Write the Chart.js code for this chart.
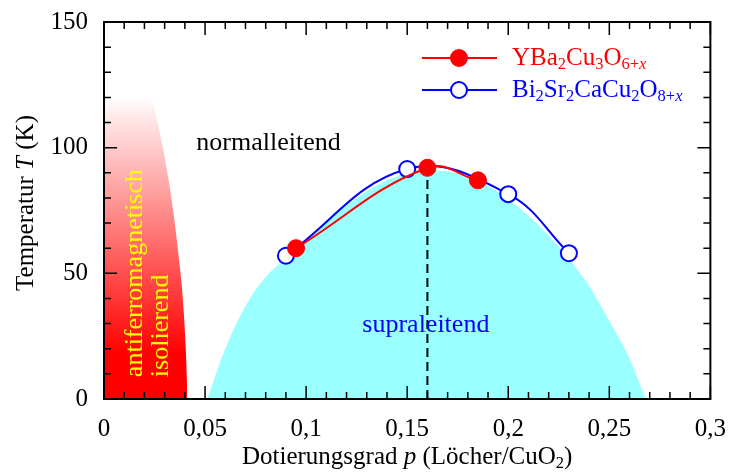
<!DOCTYPE html>
<html>
<head>
<meta charset="utf-8">
<script src="https://cdn.jsdelivr.net/npm/chart.js@4/dist/chart.umd.min.js"></script>
<style>
html, body { margin: 0; padding: 0; background: #fff; }
</style>
</head>
<body>
<canvas id="phase" width="741" height="474"></canvas>
<script>
// measured Tc values (K) vs hole doping p
const ybcoP = [0.095, 0.16, 0.185];
const ybcoT = [60, 92, 87];
const bsccoP = [0.09, 0.15, 0.2, 0.23];
const bsccoT = [57, 91.5, 81.5, 58];

// outline of the superconducting dome
const domeP = [0.051, 0.06, 0.07, 0.08, 0.09, 0.1, 0.12, 0.14, 0.16, 0.18, 0.2, 0.22, 0.24, 0.25, 0.26, 0.268];
const domeT = [0, 20, 37, 48.5, 56, 63, 77, 87, 91, 88.5, 79.5, 65, 45, 31, 16, 0];

// outline of the antiferromagnetic region
const afP = [0, 0.023, 0.0254, 0.032, 0.0365, 0.0395, 0.041, 0.0412];
const afT = [121, 121, 114, 87, 60, 34, 7.5, 0];

// optimal doping marker
const optP = [0.16, 0.16];
const optT = [0, 92];

const xTickValues = [0, 0.05, 0.1, 0.15, 0.2, 0.25, 0.3];
const xTickLabels = ['0', '0,05', '0,1', '0,15', '0,2', '0,25', '0,3'];
const yTickValues = [0, 50, 100, 150];
const yTickLabels = ['0', '50', '100', '150'];

const SERIF = '"Liberation Serif", "Times New Roman", serif';
const RED = '#ff0000';
const BLUE = '#0000ff';

function toPoints(xs, ys) {
    return xs.map((x, i) => ({ x: x, y: ys[i] }));
}

function fontFor(size, italic) {
    return (italic ? 'italic ' : '') + size + 'px ' + SERIF;
}

// parts: [text, flags]  flags: 'i' italic, 's' subscript
function richWidth(ctx, parts, size) {
    let w = 0;
    parts.forEach(([t, f = '']) => {
        ctx.font = fontFor(f.includes('s') ? size * 0.66 : size, f.includes('i'));
        w += ctx.measureText(t).width;
    });
    return w;
}

function drawRich(ctx, parts, x, y, size, color, align) {
    ctx.save();
    ctx.fillStyle = color;
    ctx.textBaseline = 'alphabetic';
    ctx.textAlign = 'left';
    let cx = x;
    if (align === 'center') cx -= richWidth(ctx, parts, size) / 2;
    parts.forEach(([t, f = '']) => {
        const sub = f.includes('s');
        ctx.font = fontFor(sub ? size * 0.66 : size, f.includes('i'));
        ctx.fillText(t, cx, sub ? y + size * 0.16 : y);
        cx += ctx.measureText(t).width;
    });
    ctx.restore();
}

const decor = {
    id: 'decor',
    afterDraw(chart) {
        const ctx = chart.ctx;
        const a = chart.chartArea;
        const sx = chart.scales.x;
        const sy = chart.scales.y;

        // inward ticks on all four sides
        ctx.save();
        ctx.strokeStyle = '#000';
        ctx.lineWidth = 1.5;
        ctx.beginPath();
        for (let k = 0; k <= 30; k++) {
            const px = sx.getPixelForValue(k / 100);
            const len = k % 5 === 0 ? 13 : 7;
            ctx.moveTo(px, a.bottom); ctx.lineTo(px, a.bottom - len);
            ctx.moveTo(px, a.top); ctx.lineTo(px, a.top + len);
        }
        for (let k = 0; k <= 15; k++) {
            const py = sy.getPixelForValue(k * 10);
            const len = k % 5 === 0 ? 13 : 7;
            ctx.moveTo(a.left, py); ctx.lineTo(a.left + len, py);
            ctx.moveTo(a.right, py); ctx.lineTo(a.right - len, py);
        }
        ctx.stroke();
        ctx.lineWidth = 2;
        ctx.strokeRect(a.left, a.top, a.right - a.left, a.bottom - a.top);
        ctx.restore();

        // region labels
        ctx.save();
        ctx.font = fontFor(26, false);
        ctx.textBaseline = 'alphabetic';
        ctx.textAlign = 'left';
        ctx.fillStyle = '#000';
        ctx.fillText('normalleitend', sx.getPixelForValue(0.0457), sy.getPixelForValue(99));
        ctx.fillStyle = BLUE;
        ctx.fillText('supraleitend', sx.getPixelForValue(0.1278), sy.getPixelForValue(26.6));
        ctx.fillStyle = '#ffff00';
        ctx.translate(sx.getPixelForValue(0.019), sy.getPixelForValue(8.7));
        ctx.rotate(-Math.PI / 2);
        ctx.fillText('antiferromagnetisch', 0, 0);
        ctx.fillText('isolierend', 0, sx.getPixelForValue(0.0319) - sx.getPixelForValue(0.019));
        ctx.restore();

        // axis titles
        drawRich(ctx, [['Dotierungsgrad '], ['p', 'i'], [' (Löcher/CuO'], ['2', 's'], [')']],
            (a.left + a.right) / 2, 464, 25, '#000', 'center');
        ctx.save();
        ctx.translate(33, 203);
        ctx.rotate(-Math.PI / 2);
        drawRich(ctx, [['Temperatur '], ['T', 'i'], [' (K)']], 0, 0, 25, '#000', 'center');
        ctx.restore();

        // legend
        const entries = [
            { parts: [['YBa'], ['2', 's'], ['Cu'], ['3', 's'], ['O'], ['6+', 's'], ['x', 'si']], color: RED, fill: RED, y: 58 },
            { parts: [['Bi'], ['2', 's'], ['Sr'], ['2', 's'], ['CaCu'], ['2', 's'], ['O'], ['8+', 's'], ['x', 'si']], color: BLUE, fill: '#fff', y: 90 }
        ];
        entries.forEach(e => {
            ctx.save();
            ctx.strokeStyle = e.color;
            ctx.lineWidth = 2;
            ctx.beginPath();
            ctx.moveTo(422, e.y); ctx.lineTo(497, e.y);
            ctx.stroke();
            ctx.beginPath();
            ctx.arc(459, e.y, 8, 0, Math.PI * 2);
            ctx.fillStyle = e.fill;
            ctx.fill();
            ctx.stroke();
            ctx.restore();
            drawRich(ctx, e.parts, 512, e.y + 7, 25, e.color, 'left');
        });
    }
};

const ctx = document.getElementById('phase').getContext('2d');

new Chart(ctx, {
    type: 'line',
    data: {
        datasets: [
            {
                label: 'YBa2Cu3O6+x',
                data: toPoints(ybcoP, ybcoT),
                borderColor: RED,
                backgroundColor: RED,
                borderWidth: 2,
                pointRadius: 8.5,
                pointBackgroundColor: RED,
                pointBorderColor: RED,
                pointBorderWidth: 1,
                tension: 0.4,
                fill: false,
                order: 0
            },
            {
                label: 'Bi2Sr2CaCu2O8+x',
                data: toPoints(bsccoP, bsccoT),
                borderColor: BLUE,
                backgroundColor: '#fff',
                borderWidth: 2,
                pointRadius: 8,
                pointBackgroundColor: '#fff',
                pointBorderColor: BLUE,
                pointBorderWidth: 2,
                tension: 0.4,
                fill: false,
                order: 1
            },
            {
                label: 'optimal doping',
                data: toPoints(optP, optT),
                borderColor: '#000',
                borderWidth: 2,
                borderDash: [9, 5],
                pointRadius: 0,
                fill: false,
                order: 2
            },
            {
                label: 'supraleitend',
                data: toPoints(domeP, domeT),
                borderColor: 'rgba(0,0,0,0)',
                borderWidth: 0,
                backgroundColor: '#99ffff',
                pointRadius: 0,
                cubicInterpolationMode: 'monotone',
                fill: 'origin',
                order: 3
            },
            {
                label: 'antiferromagnetisch',
                data: toPoints(afP, afT),
                borderColor: 'rgba(0,0,0,0)',
                borderWidth: 0,
                backgroundColor: function (context) {
                    const chart = context.chart;
                    if (!chart.chartArea) return RED;
                    const y = chart.scales.y;
                    const g = chart.ctx.createLinearGradient(0, y.getPixelForValue(0), 0, y.getPixelForValue(Math.max(...afT)));
                    g.addColorStop(0, RED);
                    g.addColorStop(0.15, RED);
                    g.addColorStop(1, '#ffffff');
                    return g;
                },
                pointRadius: 0,
                cubicInterpolationMode: 'monotone',
                fill: 'origin',
                order: 4
            }
        ]
    },
    options: {
        responsive: false,
        animation: false,
        layout: { padding: { top: 22, right: 30, left: 0, bottom: 0 } },
        plugins: {
            legend: { display: false },
            tooltip: { enabled: false }
        },
        scales: {
            x: {
                type: 'linear',
                min: 0,
                max: 0.3,
                grid: { display: false, drawTicks: false },
                border: { display: false },
                afterBuildTicks: s => { s.ticks = xTickValues.map(v => ({ value: v })); },
                afterFit: s => { s.height = 75; },
                ticks: {
                    font: { family: SERIF, size: 25 },
                    color: '#000',
                    padding: 15,
                    maxRotation: 0,
                    autoSkip: false,
                    callback: (v, i) => xTickLabels[i]
                }
            },
            y: {
                type: 'linear',
                min: 0,
                max: 150,
                grid: { display: false, drawTicks: false },
                border: { display: false },
                afterBuildTicks: s => { s.ticks = yTickValues.map(v => ({ value: v })); },
                afterFit: s => { s.width = 104; s.paddingTop = 0; s.paddingBottom = 0; },
                ticks: {
                    font: { family: SERIF, size: 25, lineHeight: 0.6 },
                    color: '#000',
                    padding: 16,
                    autoSkip: false,
                    callback: (v, i) => yTickLabels[i]
                }
            }
        }
    },
    plugins: [decor]
});
</script>
</body>
</html>
